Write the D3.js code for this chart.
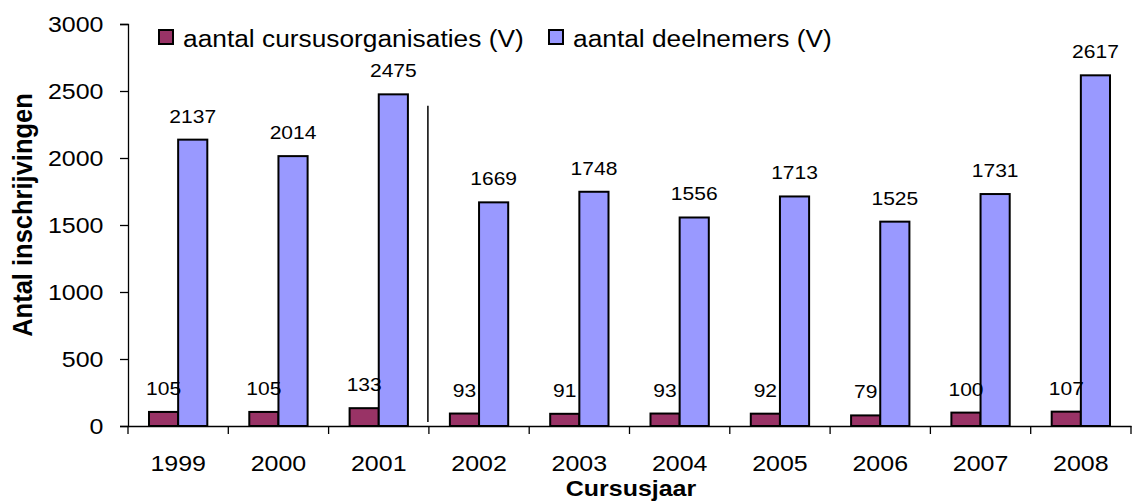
<!DOCTYPE html>
<html><head><meta charset="utf-8">
<script src="https://cdn.jsdelivr.net/npm/d3@7"></script>
<style>
body{margin:0;background:#fff;}
text{font-family:"Liberation Sans",Arial,sans-serif;fill:#000;}
</style></head>
<body><svg id="c" width="1136" height="501"></svg>
<script>
const years = ["1999","2000","2001","2002","2003","2004","2005","2006","2007","2008"];
const organisaties = [105,105,133,93,91,93,92,79,100,107];
const deelnemers = [2137,2014,2475,1669,1748,1556,1713,1525,1731,2617];
const seriesNames = ["aantal cursusorganisaties (V)","aantal deelnemers (V)"];
const seriesColors = ["#993366","#9999FF"];
const yTicks = [0,500,1000,1500,2000,2500,3000];
const separator = {after:"2001", from:2390, to:30};

const STR = 1.12; // horizontal stretch of the original text
const svg = d3.select("#c");
const x0 = 128, x1 = 1131, yTop = 24, yBot = 426;
const x = d3.scaleBand().domain(years).range([x0,x1]).paddingInner(0).paddingOuter(0);
const y = d3.scaleLinear().domain([0,3000]).range([yBot,yTop]);
const xs = d3.scaleBand().domain([0,1]).range([0,x.bandwidth()]).paddingInner(0).paddingOuter(0.72);

function st(sel, px, py){ // place stretched text
  return sel.attr("transform",(d,i)=>`translate(${px(d,i)},${py(d,i)}) scale(${STR},1)`);
}

// y axis
const yAxis = svg.append("g").attr("transform",`translate(${x0},0)`)
  .call(d3.axisLeft(y).tickValues(yTicks).tickSize(8).tickFormat(""));
yAxis.select(".domain").attr("stroke","#000").attr("stroke-width",1.3);
yAxis.selectAll(".tick line").attr("stroke","#000").attr("stroke-width",1.3);
st(svg.append("g").selectAll("text").data(yTicks).join("text"), d=>103.5, d=>y(d)+8)
  .attr("text-anchor","end").attr("font-size",22.3).text(d=>d);

// x axis
const xAxis = svg.append("g").attr("transform",`translate(0,${yBot})`)
  .call(d3.axisBottom(x).tickValues([]).tickSizeOuter(0));
xAxis.select(".domain").attr("stroke","#000").attr("stroke-width",1.3);
const bounds = years.map(d=>x(d)).concat([x1]);
svg.append("g").selectAll("line").data(bounds).join("line")
  .attr("x1",d=>d).attr("x2",d=>d).attr("y1",yBot).attr("y2",yBot+8)
  .attr("stroke","#000").attr("stroke-width",1.3);
st(svg.append("g").selectAll("text").data(years).join("text"), d=>x(d)+x.bandwidth()/2, d=>471)
  .attr("text-anchor","middle").attr("font-size",22.3).text(d=>d);

// bars
const data = years.map((yr,i)=>({yr, vals:[organisaties[i],deelnemers[i]]}));
const groups = svg.append("g").selectAll("g").data(data).join("g")
  .attr("transform",d=>`translate(${x(d.yr)},0)`);
groups.selectAll("rect").data(d=>d.vals.map((v,k)=>({v,k}))).join("rect")
  .attr("x",d=>xs(d.k)).attr("width",xs.bandwidth())
  .attr("y",d=>y(d.v)).attr("height",d=>y(0)-y(d.v))
  .attr("fill",d=>seriesColors[d.k]).attr("stroke","#000").attr("stroke-width",2);
st(groups.selectAll("text").data(d=>d.vals.map((v,k)=>({v,k}))).join("text"),
   d=>xs(d.k)+xs.bandwidth()/2, d=>y(d.v)-17)
  .attr("text-anchor","middle").attr("font-size",18.8).text(d=>d.v);

// separator line
const sx = x(years[years.indexOf(separator.after)+1]) - 1;
svg.append("line").attr("x1",sx).attr("x2",sx).attr("y1",y(separator.from)).attr("y2",y(separator.to))
  .attr("stroke","#000").attr("stroke-width",1.5);

// legend
const legX = [159,549];
const leg = svg.append("g").selectAll("g").data(seriesNames).join("g")
  .attr("transform",(d,i)=>`translate(${legX[i]},30)`);
leg.append("rect").attr("width",14).attr("height",14)
  .attr("fill",(d,i)=>seriesColors[i]).attr("stroke","#000").attr("stroke-width",2);
st(leg.append("text"), d=>24, d=>17).attr("font-size",23.5).text(d=>d);

// axis titles
svg.append("text").attr("transform",`translate(631,496) scale(${STR},1)`).attr("text-anchor","middle")
  .attr("font-size",22.3).attr("font-weight","bold").text("Cursusjaar");
svg.append("text").attr("transform","translate(32,215) rotate(-90) scale(1,1.1)").attr("text-anchor","middle")
  .attr("font-size",25.5).attr("font-weight","bold").text("Antal inschrijvingen");
</script></body></html>
